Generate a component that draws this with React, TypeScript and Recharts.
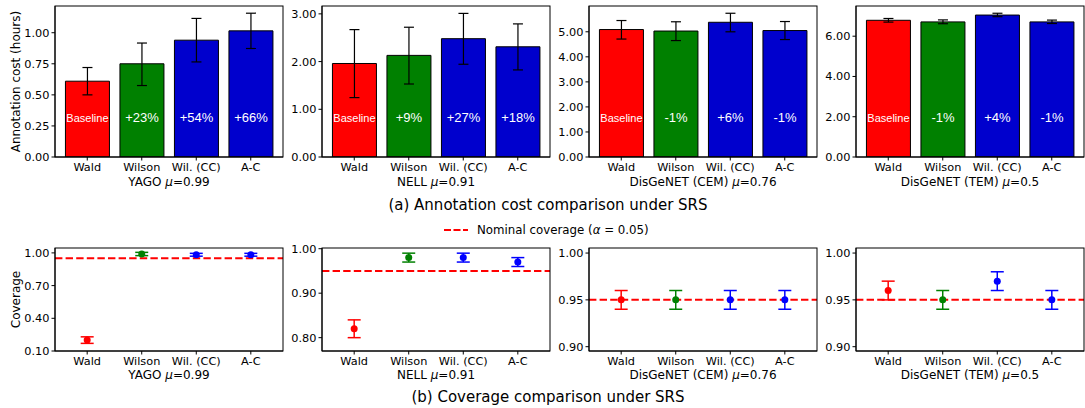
import React from 'react';
import {
  BarChart,
  Bar,
  XAxis,
  YAxis,
  ErrorBar,
  LabelList,
  Cell,
  ScatterChart,
  Scatter,
  ReferenceLine,
} from 'recharts';

const FONT = 'DejaVu Sans, sans-serif';
const LABEL_FONT = 'Liberation Sans, Arial, sans-serif';

// ---------- data ----------
const methods = ['Wald', 'Wilson', 'Wil. (CC)', 'A-C'];
const barColors = ['#ff0000', '#008000', '#0000cd', '#0000cd'];
const pointColors = ['#ff0000', '#008000', '#0000ff', '#0000ff'];
const datasets = ['YAGO', 'NELL', 'DisGeNET (CEM)', 'DisGeNET (TEM)'];
const mus = ['0.99', '0.91', '0.76', '0.5'];

// annotation cost (hours): mean, lower, upper
const costYago = [0.61, 0.75, 0.94, 1.015];
const costYagoLow = [0.5, 0.575, 0.765, 0.873];
const costYagoHigh = [0.72, 0.917, 1.115, 1.157];
const costYagoLabels = ['Baseline', '+23%', '+54%', '+66%'];

const costNell = [1.96, 2.13, 2.48, 2.31];
const costNellLow = [1.245, 1.53, 1.944, 1.825];
const costNellHigh = [2.67, 2.72, 3.01, 2.79];
const costNellLabels = ['Baseline', '+9%', '+27%', '+18%'];

const costCem = [5.09, 5.03, 5.38, 5.05];
const costCemLow = [4.71, 4.65, 5.0, 4.69];
const costCemHigh = [5.45, 5.4, 5.74, 5.41];
const costCemLabels = ['Baseline', '-1%', '+6%', '-1%'];

const costTem = [6.79, 6.71, 7.05, 6.71];
const costTemLow = [6.7, 6.62, 6.97, 6.63];
const costTemHigh = [6.88, 6.81, 7.14, 6.8];
const costTemLabels = ['Baseline', '-1%', '+4%', '-1%'];

const costTicksYago = [0, 0.25, 0.5, 0.75, 1.0];
const costTicksNell = [0, 1, 2, 3];
const costTicksCem = [0, 1, 2, 3, 4, 5];
const costTicksTem = [0, 2, 4, 6];

// coverage: mean, lower, upper
const covYago = [0.2, 0.99, 0.983, 0.983];
const covYagoLow = [0.17, 0.975, 0.97, 0.97];
const covYagoHigh = [0.23, 1.005, 0.996, 0.996];

const covNell = [0.82, 0.98, 0.98, 0.97];
const covNellLow = [0.8, 0.97, 0.97, 0.96];
const covNellHigh = [0.84, 0.99, 0.99, 0.98];

const covCem = [0.95, 0.95, 0.95, 0.95];
const covCemLow = [0.94, 0.94, 0.94, 0.94];
const covCemHigh = [0.96, 0.96, 0.96, 0.96];

const covTem = [0.96, 0.95, 0.97, 0.95];
const covTemLow = [0.95, 0.94, 0.96, 0.94];
const covTemHigh = [0.97, 0.96, 0.98, 0.96];

const covTicksYago = [0.1, 0.4, 0.7, 1.0];
const covTicksNell = [0.8, 0.9, 1.0];
const covTicksCem = [0.9, 0.95, 1.0];
const covTicksTem = [0.9, 0.95, 1.0];

const NOMINAL = 0.95;

// ---------- layout ----------
const PANEL_LEFTS = [55, 322, 589, 856];
const PW = 228;
const YW = 50;
const MR = 1;
const XH = 20;
const TOP_T = 6;
const TOP_H = 151;
const TOP_MT = 6;
const BOT_T = 248;
const BOT_H = 103;
const BOT_MT = 8;
const X_DOMAIN: [number, number] = [-0.59, 3.59];

const TICK_FS = 11.3;
const AXLABEL_FS = 12;
const tickStyle = { fill: '#000', fontSize: TICK_FS, fontFamily: FONT };
const fmt2 = (v: number) => Number(v).toFixed(2);

const renderBarLabel = (p: any) => {
  const vb = p.viewBox || {};
  const x = vb.x ?? p.x;
  const y = vb.y ?? p.y;
  const w = vb.width ?? p.width;
  const h = vb.height ?? p.height;
  const bottom = Number(y) + Number(h);
  const isBase = p.value === 'Baseline';
  return (
    <text
      x={Number(x) + Number(w) / 2}
      y={bottom - 34.6}
      textAnchor="middle"
      fill="#fff"
      fontSize={isBase ? 11 : 13}
      fontFamily={LABEL_FONT}
    >
      {p.value}
    </text>
  );
};

type CostProps = {
  left: number;
  values: number[];
  low: number[];
  high: number[];
  labels: string[];
  ticks: number[];
  domain: [number, number];
};

function CostPanel({ left, values, low, high, labels, ticks, domain }: CostProps) {
  const data = methods.map((m, i) => ({
    name: m,
    v: values[i],
    err: [values[i] - low[i], high[i] - values[i]],
    label: labels[i],
  }));
  return (
    <div style={{ position: 'absolute', left: left - YW, top: TOP_T - TOP_MT }}>
      <BarChart
        width={YW + PW + MR}
        height={TOP_MT + TOP_H + XH}
        data={data}
        margin={{ top: TOP_MT, right: MR, bottom: 0, left: 0 }}
        barCategoryGap="10%"
      >
        <XAxis
          dataKey="name"
          type="category"
          padding={{ left: 5, right: 5 }}
          height={XH}
          stroke="#000"
          tickSize={3.5}
          tickMargin={2}
          tick={tickStyle}
          interval={0}
        />
        <YAxis
          type="number"
          domain={domain}
          ticks={ticks}
          interval={0}
          allowDataOverflow
          width={YW}
          stroke="#000"
          tickSize={3.5}
          tickMargin={2}
          tick={tickStyle}
          tickFormatter={fmt2}
        />
        <Bar dataKey="v" isAnimationActive={false} stroke="#000" strokeWidth={1}>
          {data.map((d, i) => (
            <Cell key={d.name} fill={barColors[i]} />
          ))}
          <ErrorBar dataKey="err" width={5} stroke="#000" strokeWidth={1.2} />
          <LabelList dataKey="label" content={renderBarLabel} />
        </Bar>
      </BarChart>
    </div>
  );
}

type CovProps = {
  left: number;
  values: number[];
  low: number[];
  high: number[];
  ticks: number[];
  domain: [number, number];
};

function CoveragePanel({ left, values, low, high, ticks, domain }: CovProps) {
  const xTicks = methods.map((_, i) => i);
  return (
    <div style={{ position: 'absolute', left: left - YW, top: BOT_T - BOT_MT }}>
      <ScatterChart
        width={YW + PW + MR}
        height={BOT_MT + BOT_H + XH}
        margin={{ top: BOT_MT, right: MR, bottom: 0, left: 0 }}
      >
        <XAxis
          type="number"
          dataKey="x"
          domain={X_DOMAIN}
          ticks={xTicks}
          interval={0}
          allowDataOverflow
          tickFormatter={(i: number) => methods[i]}
          height={XH}
          stroke="#000"
          tickSize={3.5}
          tickMargin={2}
          tick={tickStyle}
        />
        <YAxis
          type="number"
          dataKey="y"
          domain={domain}
          ticks={ticks}
          interval={0}
          allowDataOverflow
          width={YW}
          stroke="#000"
          tickSize={3.5}
          tickMargin={2}
          tick={tickStyle}
          tickFormatter={fmt2}
        />
        <ReferenceLine y={NOMINAL} stroke="#ff0000" strokeWidth={2} strokeDasharray="7.4 3.2" />
        {methods.map((m, i) => (
          <Scatter
            key={m}
            name={m}
            data={[{ x: i, y: values[i], err: [values[i] - low[i], high[i] - values[i]] }]}
            isAnimationActive={false}
            fill={pointColors[i]}
            shape={(p: any) => <circle cx={p.cx} cy={p.cy} r={3.5} fill={pointColors[i]} />}
          >
            <ErrorBar dataKey="err" direction="y" width={6.5} stroke={pointColors[i]} strokeWidth={1.5} />
          </Scatter>
        ))}
      </ScatterChart>
    </div>
  );
}

const costPanels = [
  { values: costYago, low: costYagoLow, high: costYagoHigh, labels: costYagoLabels, ticks: costTicksYago, domain: [0, 1.215] as [number, number] },
  { values: costNell, low: costNellLow, high: costNellHigh, labels: costNellLabels, ticks: costTicksNell, domain: [0, 3.165] as [number, number] },
  { values: costCem, low: costCemLow, high: costCemHigh, labels: costCemLabels, ticks: costTicksCem, domain: [0, 6.03] as [number, number] },
  { values: costTem, low: costTemLow, high: costTemHigh, labels: costTemLabels, ticks: costTicksTem, domain: [0, 7.5] as [number, number] },
];

const covPanels = [
  { values: covYago, low: covYagoLow, high: covYagoHigh, ticks: covTicksYago, domain: [0.1, 1.045] as [number, number] },
  { values: covNell, low: covNellLow, high: covNellHigh, ticks: covTicksNell, domain: [0.77, 1.0016] as [number, number] },
  { values: covCem, low: covCemLow, high: covCemHigh, ticks: covTicksCem, domain: [0.8954, 1.0054] as [number, number] },
  { values: covTem, low: covTemLow, high: covTemHigh, ticks: covTicksTem, domain: [0.8954, 1.0054] as [number, number] },
];

function Overlay() {
  return (
    <svg
      width={1085}
      height={408}
      style={{ position: 'absolute', left: 0, top: 0, pointerEvents: 'none' }}
      fontFamily={FONT}
    >
      {/* axes frames (spines) */}
      {PANEL_LEFTS.map((l, i) => (
        <rect key={`ft${i}`} x={l} y={TOP_T} width={PW} height={TOP_H} fill="none" stroke="#000" strokeWidth={1} />
      ))}
      {PANEL_LEFTS.map((l, i) => (
        <rect key={`fb${i}`} x={l} y={BOT_T} width={PW} height={BOT_H} fill="none" stroke="#000" strokeWidth={1} />
      ))}
      <text
        transform="translate(19.5, 81.5) rotate(-90)"
        textAnchor="middle"
        fontSize={AXLABEL_FS}
        fill="#000"
      >
        Annotation cost (hours)
      </text>
      <text
        transform={`translate(19.5, ${BOT_T + BOT_H / 2}) rotate(-90)`}
        textAnchor="middle"
        fontSize={AXLABEL_FS}
        fill="#000"
      >
        Coverage
      </text>
      {PANEL_LEFTS.map((l, i) => (
        <text key={`st${i}`} x={l + PW / 2} y={185.5} textAnchor="middle" fontSize={AXLABEL_FS} fill="#000">
          {datasets[i]} <tspan fontStyle="italic">μ</tspan>={mus[i]}
        </text>
      ))}
      {PANEL_LEFTS.map((l, i) => (
        <text key={`sb${i}`} x={l + PW / 2} y={378.7} textAnchor="middle" fontSize={AXLABEL_FS} fill="#000">
          {datasets[i]} <tspan fontStyle="italic">μ</tspan>={mus[i]}
        </text>
      ))}
      <text x={548} y={210} textAnchor="middle" fontSize={15} fill="#000">
        (a) Annotation cost comparison under SRS
      </text>
      <text x={548} y={401.5} textAnchor="middle" fontSize={15} fill="#000">
        (b) Coverage comparison under SRS
      </text>
      <line x1={444} x2={468} y1={230} y2={230} stroke="#ff0000" strokeWidth={2} strokeDasharray="7 2.5" />
      <text x={477} y={234.3} fontSize={11.8} fill="#000">
        Nominal coverage (<tspan fontStyle="italic">α</tspan> = 0.05)
      </text>
    </svg>
  );
}

export default function App() {
  return (
    <div style={{ position: 'absolute', left: 0, top: 0, width: 1085, height: 408, background: '#fff', overflow: 'hidden' }}>
      {costPanels.map((p, i) => (
        <CostPanel key={`c${i}`} left={PANEL_LEFTS[i]} {...p} />
      ))}
      {covPanels.map((p, i) => (
        <CoveragePanel key={`v${i}`} left={PANEL_LEFTS[i]} {...p} />
      ))}
      <Overlay />
    </div>
  );
}
